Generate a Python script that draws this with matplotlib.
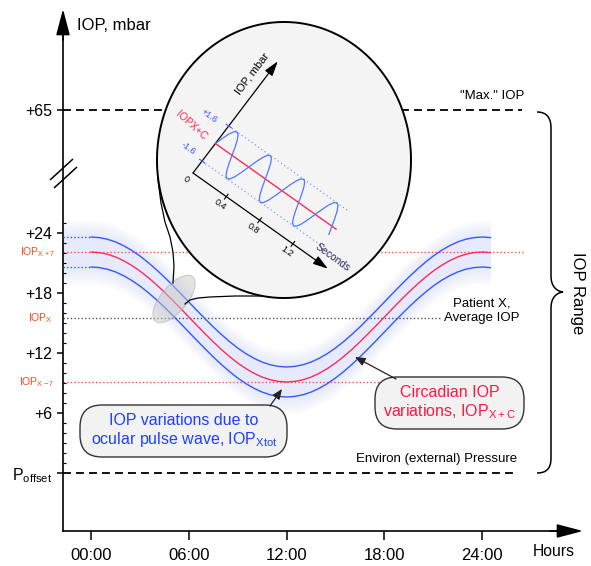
import matplotlib
matplotlib.use("Agg")
import matplotlib.pyplot as plt
import numpy as np
from matplotlib.patches import Polygon, FancyBboxPatch, PathPatch
from matplotlib.path import Path

plt.rcParams["font.family"] = ["Liberation Sans", "DejaVu Sans"]

# ---- data ----
HOURS = np.arange(0, 24.51, 0.5)
CIRCADIAN_IOP = [22.10, 22.04, 21.88, 21.61, 21.23, 20.76, 20.20, 19.56, 18.85, 18.09,
                 17.28, 16.45, 15.60, 14.75, 13.92, 13.11, 12.35, 11.64, 11.00, 10.44,
                 9.97, 9.59, 9.32, 9.16, 9.10,
                 9.16, 9.32, 9.59, 9.97, 10.44, 11.00, 11.64, 12.35, 13.11, 13.92,
                 14.75, 15.60, 16.45, 17.28, 18.09, 18.85, 19.56, 20.20, 20.76, 21.23,
                 21.61, 21.88, 22.04, 22.10, 22.04]
PULSE_BAND = 1.5          # ocular pulse half-range on the main chart
IOP_X = 15.5
IOP_X_PLUS7 = 22.1
IOP_X_MINUS7 = 9.1
MAX_IOP_POS = 36.3        # where "+65" sits above the axis break

HOUR_TICKS = [0, 6, 12, 18, 24]
HOUR_LABELS = ["00:00", "06:00", "12:00", "18:00", "24:00"]
IOP_TICKS = [0, 6, 12, 18, 24, MAX_IOP_POS]
IOP_LABELS = [r"P$_\mathregular{offset}$", "+6", "+12", "+18", "+24", "+65"]
IOP_MINOR = [v for v in range(1, 26) if v % 6 != 0]

# inset: ocular pulse wave over a few seconds
PULSE_T = np.arange(0, 1.426, 0.025)
PULSE_IOP = [0, 0.61, 1.13, 1.48, 1.60, 1.48, 1.13, 0.61, 0, -0.61, -1.13, -1.48, -1.60, -1.48, -1.13, -0.61,
             0, 0.61, 1.13, 1.48, 1.60, 1.48, 1.13, 0.61, 0, -0.61, -1.13, -1.48, -1.60, -1.48, -1.13, -0.61,
             0, 0.61, 1.13, 1.48, 1.60, 1.48, 1.13, 0.61, 0, -0.61, -1.13, -1.48, -1.60, -1.48, -1.13, -0.61,
             0, 0.61, 1.13, 1.48, 1.60, 1.48, 1.13, 0.61, 0, -0.61]
PULSE_RANGE = 1.6
PULSE_TICKS = [0.4, 0.8, 1.2]
PULSE_TICK_LABELS = ["0.4", "0.8", "1.2"]

BLUE = "#3558ff"
RED = "#ff2a55"
ORANGE = "#ff5533"

# ---- layout helpers (figure pixel -> data) ----
W, H = 591, 566
X0PX, PXH, Y0PX, PXU = 91, 16.3, 473, 10.0


def px(x, y):
    return ((x - X0PX) / PXH, (Y0PX - y) / PXU)


def pxs(points):
    return [px(x, y) for x, y in points]


def ellipse_pts(cx, cy, a, b, ang, n=240):
    th = np.linspace(0, 2 * np.pi, n)
    r = np.deg2rad(ang)
    dx = a * np.cos(th) * np.cos(r) - b * np.sin(th) * np.sin(r)
    dy = a * np.cos(th) * np.sin(r) + b * np.sin(th) * np.cos(r)
    return [px(cx + x, cy - y) for x, y in zip(dx, dy)]


fig = plt.figure(figsize=(W / 100, H / 100), dpi=100)
ax = fig.add_axes([0, 0, 1, 1])
ax.set_xlim(-X0PX / PXH, (W - X0PX) / PXH)
ax.set_ylim((Y0PX - H) / PXU, Y0PX / PXU)

XAX = px(63, 0)[0]
YAX = px(0, 531)[1]
for s in ("top", "right"):
    ax.spines[s].set_visible(False)
ax.spines["left"].set_position(("data", XAX))
ax.spines["bottom"].set_position(("data", YAX))
ax.spines["left"].set_bounds(YAX, px(0, 20)[1])
ax.spines["bottom"].set_bounds(XAX, px(570, 0)[0])
for s in ("left", "bottom"):
    ax.spines[s].set_linewidth(1.2)

arrow_kw = dict(arrowstyle="-|>,head_length=1.6,head_width=0.42", color="k", lw=1.2,
                shrinkA=0, shrinkB=0)
ax.annotate("", xy=(XAX, px(0, 9)[1]), xytext=(XAX, px(0, 40)[1]), arrowprops=arrow_kw)
ax.annotate("", xy=(px(583, 0)[0], YAX), xytext=(px(550, 0)[0], YAX), arrowprops=arrow_kw)

ax.set_xticks(HOUR_TICKS, HOUR_LABELS)
ax.tick_params(axis="x", direction="out", length=6.5, width=1.1, pad=6, labelsize=12)
ax.set_yticks(IOP_TICKS, IOP_LABELS)
ax.set_yticks(IOP_MINOR, minor=True)
ax.tick_params(axis="y", which="major", direction="out", length=4, width=1.1, pad=4, labelsize=11.5)
ax.tick_params(axis="y", which="minor", direction="in", length=2.5, width=0.8)

# axis break
for seg in ([(50, 180), (73, 159)], [(54, 188), (77, 167)]):
    xs, ys = zip(*pxs(seg))
    ax.plot(xs, ys, color="k", lw=1.1, solid_capstyle="butt")

ax.text(*px(77, 25), "IOP, mbar", fontsize=12, ha="left", va="center")
ax.text(*px(533, 551), "Hours", fontsize=11.3, ha="left", va="center")

# axis side labels for patient levels
lab_kw = dict(fontsize=7.5, color="#ff4422", ha="right", va="center")
ax.text(*px(56, 252), r"IOP$_\mathregular{X+7}$", **lab_kw)
ax.text(*px(53, 318), r"IOP$_\mathregular{X}$", **lab_kw)
ax.text(*px(55, 382), r"IOP$_\mathregular{X-7}$", **lab_kw)

# reference lines
dash = (0, (4.4, 2.8))
ax.plot([XAX, px(522, 0)[0]], [MAX_IOP_POS] * 2, color="k", lw=1.3, ls=dash, zorder=2)
ax.plot([XAX, px(515, 0)[0]], [0, 0], color="k", lw=1.3, ls=dash, zorder=2)
dot = (0, (1, 1.6))
ax.plot([XAX, px(523, 0)[0]], [IOP_X_PLUS7] * 2, color=ORANGE, lw=1.0, ls=dot, zorder=2)
ax.plot([XAX, px(440, 0)[0]], [IOP_X] * 2, color="#555555", lw=1.0, ls=dot, zorder=2)
ax.plot([XAX, px(390, 0)[0]], [IOP_X_MINUS7] * 2, color=ORANGE, lw=1.0, ls=dot, zorder=2)

# circadian curve with pulse envelope
c = np.array(CIRCADIAN_IOP)
xg = np.concatenate([[XAX], HOURS])
cg = np.concatenate([[c[0]], c])
for off in np.linspace(3.2, 1.7, 8):
    ax.fill_between(xg, cg - off, cg + off, color="#c4cff8", alpha=0.055, lw=0, zorder=1)
ax.fill_between(xg, cg - PULSE_BAND, cg + PULSE_BAND, color="#e6eafc", lw=0, zorder=1)
ax.plot(HOURS, c + PULSE_BAND, color=BLUE, lw=1.0, zorder=3)
ax.plot(HOURS, c - PULSE_BAND, color=BLUE, lw=1.0, zorder=3)
ax.plot(HOURS, c, color=RED, lw=1.0, zorder=3)
for sgn in (1, -1):
    ax.plot([XAX, 0], [c[0] + sgn * PULSE_BAND] * 2, color=BLUE, lw=1.0, ls=dot, zorder=3)

# right side texts
ax.text(*px(524, 96), "\"Max.\" IOP", fontsize=9.5, ha="right", va="center")
ax.text(*px(482, 311), "Patient X,\nAverage IOP", fontsize=9.5, ha="center", va="center",
        linespacing=1.3)
ax.text(*px(517, 459), "Environ (external) Pressure", fontsize=9.5, ha="right", va="center")

brace = [(537, 112), (546, 112), (551, 117), (551, 128), (551, 276),
         (551, 286), (556, 291), (563, 292), (556, 293), (551, 298), (551, 308),
         (551, 458), (551, 469), (546, 473), (537, 473)]
codes = [Path.MOVETO, Path.CURVE4, Path.CURVE4, Path.CURVE4, Path.LINETO,
         Path.CURVE4, Path.CURVE4, Path.CURVE4, Path.CURVE4, Path.CURVE4, Path.CURVE4,
         Path.LINETO, Path.CURVE4, Path.CURVE4, Path.CURVE4]
ax.add_patch(PathPatch(Path(pxs(brace), codes), fc="none", ec="k", lw=1.1))
ax.text(*px(577, 293), "IOP Range", fontsize=12, rotation=270, ha="center", va="center")

# magnifier lens and its connection to the inset
ax.add_patch(Polygon(ellipse_pts(174, 299, 29, 13, 50), closed=True, fc="#c8c8c8",
                     ec="#a8a8a8", lw=0.8, alpha=0.5, zorder=4))
for seg in ([(157, 160), (158, 180), (161, 203), (165, 222), (170, 237), (173, 252),
             (174, 266), (173, 283)],
            [(185, 304), (190, 300), (198, 298), (210, 297), (235, 296), (263, 296)]):
    xs, ys = zip(*pxs(seg))
    ax.plot(xs, ys, color="k", lw=0.9, zorder=4)

ax.add_patch(Polygon(ellipse_pts(284, 160, 127, 138, 0), closed=True, fc="#f4f4f4",
                     ec="k", lw=1.4, zorder=5))

# inset axes (tilted frame)
O = np.array([193.0, 173.0])
UT = np.array([0.816, 0.579])
UI = np.array([0.605, -0.797])
V0 = -37 / 13.75


def inset_px(t, v):
    t = np.asarray(t, dtype=float)
    v = np.asarray(v, dtype=float)
    x = O[0] + t * 102 * UT[0] + (37 + 13.75 * v) * UI[0]
    y = O[1] + t * 102 * UT[1] + (37 + 13.75 * v) * UI[1]
    return x, y


def inset(t, v):
    x, y = inset_px(t, v)
    return (x - X0PX) / PXH, (Y0PX - y) / PXU


in_arrow = dict(arrowstyle="-|>,head_length=0.9,head_width=0.28", color="k", lw=0.9,
                shrinkA=0, shrinkB=0)
ax.annotate("", xy=inset(0, 7.5), xytext=inset(0, V0), arrowprops=in_arrow, zorder=6)
ax.annotate("", xy=inset(1.62, V0), xytext=inset(0, V0), arrowprops=in_arrow, zorder=6)

for sgn in (1, -1):
    xs, ys = inset([0, 1.45], [sgn * PULSE_RANGE] * 2)
    ax.plot(xs, ys, color="#7e9bff", lw=0.9, ls=(0, (1, 2.2)), zorder=6)
xs, ys = inset([0, 1.45], [0, 0])
ax.plot(xs, ys, color=RED, lw=1.0, zorder=7)
xs, ys = inset(PULSE_T, PULSE_IOP)
ax.plot(xs, ys, color="#4f78ff", lw=0.9, zorder=7)

for t, lab in zip(PULSE_TICKS, PULSE_TICK_LABELS):
    tx, ty = inset_px(t, V0)
    seg = [(tx - 3 * UI[0], ty - 3 * UI[1]), (tx + 3 * UI[0], ty + 3 * UI[1])]
    xs, ys = zip(*pxs(seg))
    ax.plot(xs, ys, color="k", lw=0.8, zorder=6)
    ax.text(*px(tx - 6, ty + 8), lab, fontsize=6.5, rotation=-35, ha="center", va="center", zorder=7)
for v in (PULSE_RANGE, -PULSE_RANGE):
    tx, ty = inset_px(0, v)
    seg = [(tx - 3 * UT[0], ty - 3 * UT[1]), (tx + 3 * UT[0], ty + 3 * UT[1])]
    xs, ys = zip(*pxs(seg))
    ax.plot(xs, ys, color=BLUE, lw=0.8, zorder=6)

ax.text(*px(209, 116), "+1.6", fontsize=6.5, color=BLUE, rotation=-35, ha="center", va="center", zorder=7)
ax.text(*px(188, 148), "-1.6", fontsize=6.5, color=BLUE, rotation=-35, ha="center", va="center", zorder=7)
ax.text(*px(186, 179), "0", fontsize=6.5, rotation=-35, ha="center", va="center", zorder=7)
ax.text(*px(191, 126), "IOPX+C", fontsize=7.5, color=RED, rotation=-42, ha="center", va="center", zorder=7)
ax.text(*px(252, 74), "IOP, mbar", fontsize=8, rotation=53, ha="center", va="center", zorder=7)
ax.text(*px(333, 257), "Seconds", fontsize=7.5, color="#262660", rotation=-36, ha="center",
        va="center", zorder=7)

# callout boxes
ASPECT = PXH / PXU
x0, y0 = px(80, 457)
x1, y1 = px(287, 405)
ax.add_patch(FancyBboxPatch((x0, y0), x1 - x0, y1 - y0, boxstyle="round,pad=0,rounding_size=1.35",
                            mutation_aspect=ASPECT, fc="#f2f2f2", ec="#333333", lw=1.0, zorder=8))
ax.text(*px(184, 431), "IOP variations due to\nocular pulse wave, IOP$_\\mathregular{Xtot}$",
        fontsize=11.5, color="#1f3fff", ha="center", va="center", linespacing=1.2, zorder=9)
x0, y0 = px(375, 429)
x1, y1 = px(524, 377)
ax.add_patch(FancyBboxPatch((x0, y0), x1 - x0, y1 - y0, boxstyle="round,pad=0,rounding_size=1.35",
                            mutation_aspect=ASPECT, fc="#f2f2f2", ec="#333333", lw=1.0, zorder=8))
ax.text(*px(450, 403), "Circadian IOP\nvariations, IOP$_\\mathregular{X+C}$",
        fontsize=11.5, color="#ff1744", ha="center", va="center", linespacing=1.2, zorder=9)

call_kw = dict(arrowstyle="-|>,head_length=0.6,head_width=0.25", color="#222222", lw=0.9,
               shrinkA=0, shrinkB=0)
ax.annotate("", xy=px(282, 389), xytext=px(270, 406), arrowprops=call_kw, zorder=9)
ax.annotate("", xy=px(355, 357), xytext=px(396, 379), arrowprops=call_kw, zorder=9)

fig.savefig("out.png", dpi=100)
